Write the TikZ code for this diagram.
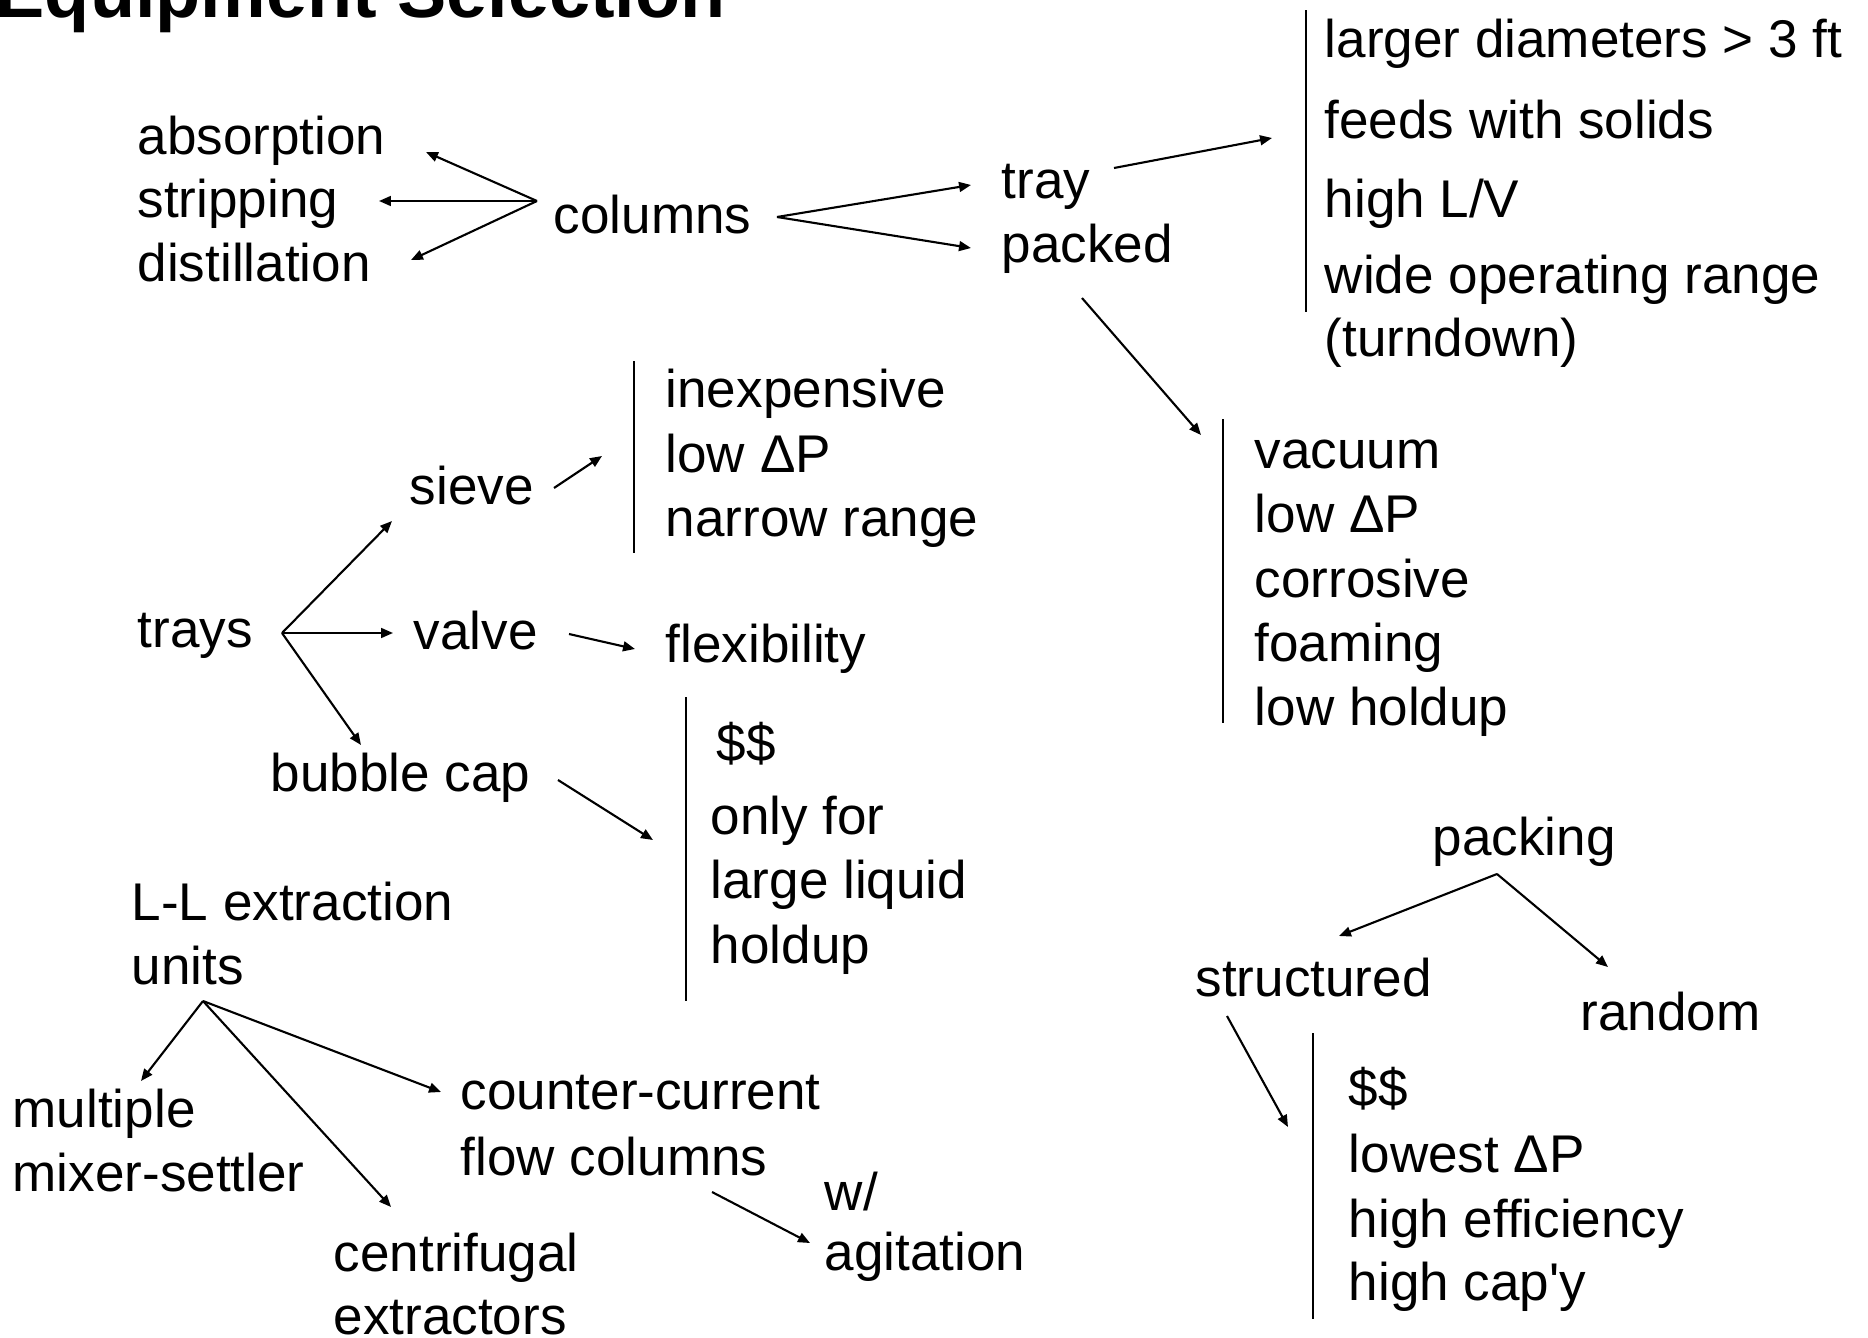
\documentclass[tikz,border=0pt]{standalone}
\usepackage{fontspec}
\usetikzlibrary{arrows.meta}
\newfontfamily\arialfont{Liberation Sans}
\newcommand{\bodyfont}{\arialfont\fontsize{15.1pt}{18pt}\selectfont}
\newcommand{\titlefont}{\arialfont\bfseries\fontsize{21pt}{25pt}\selectfont}

\begin{document}
\begin{tikzpicture}[x=0.1mm,y=-0.1mm,
  txt/.style={anchor=base west,inner sep=0pt,font=\bodyfont},
  arr/.style={line width=0.6pt,-{Triangle[length=3.4pt,width=2.8pt]}},
  bar/.style={line width=0.6pt}]
\path[use as bounding box,fill=white] (0,0) rectangle (1868,1338);
\node[anchor=base west,inner sep=0pt,font=\titlefont] (title) at (-5,17) {Equipment Selection};

\node[txt] (absorption) at (137,154) {absorption};
\node[txt] (stripping) at (137,217) {stripping};
\node[txt] (distillation) at (137,281) {distillation};
\node[txt] (columns) at (553,233) {columns};
\node[txt] (tray) at (1001,198) {tray};
\node[txt] (packed) at (1001,262) {packed};
\node[txt] (diam) at (1324,58) {larger diameters > 3 ft};
\node[txt] (solids) at (1324,138) {feeds with solids};
\node[txt] (highLV) at (1324,217) {high L/V};
\node[txt] (wide) at (1324,293) {wide operating range};
\node[txt] (turndown) at (1324,356) {(turndown)};
\node[txt] (vacuum) at (1254,468) {vacuum};
\node[txt] (lowdp) at (1254,532) {low ΔP};
\node[txt] (corrosive) at (1254,597) {corrosive};
\node[txt] (foaming) at (1254,661) {foaming};
\node[txt] (lowholdup) at (1254,725) {low holdup};
\node[txt] (inexp) at (665,407) {inexpensive};
\node[txt] (sievedp) at (665,472) {low ΔP};
\node[txt] (narrow) at (665,536) {narrow range};
\node[txt] (sieve) at (409,504) {sieve};
\node[txt] (trays) at (137,647) {trays};
\node[txt] (valve) at (413,649) {valve};
\node[txt] (flex) at (665,662) {flexibility};
\node[txt] (bubble) at (270,791) {bubble cap};
\node[txt] (capcost) at (716,761) {\$\$};
\node[txt] (onlyfor) at (710,834) {only for};
\node[txt] (largeliq) at (710,898) {large liquid};
\node[txt] (capholdup) at (710,963) {holdup};
\node[txt] (llext) at (131,920) {L-L extraction};
\node[txt] (units) at (131,984) {units};
\node[txt] (multiple) at (12,1127) {multiple};
\node[txt] (mixer) at (12,1191) {mixer-settler};
\node[txt] (counter) at (460,1109) {counter-current};
\node[txt] (flowcol) at (460,1175) {flow columns};
\node[txt] (centri) at (333,1271) {centrifugal};
\node[txt] (extractors) at (333,1334) {extractors};
\node[txt] (with) at (824,1210) {w/};
\node[txt] (agitation) at (824,1270) {agitation};
\node[txt] (packing) at (1432,855) {packing};
\node[txt] (structured) at (1195,996) {structured};
\node[txt] (random) at (1580,1030) {random};
\node[txt] (strcost) at (1348,1106) {\$\$};
\node[txt] (lowest) at (1348,1172) {lowest ΔP};
\node[txt] (effic) at (1348,1237) {high efficiency};
\node[txt] (capy) at (1348,1300) {high cap'y};

\coordinate (colhubL) at (537,201);
\coordinate (absorptionT) at (426,152);
\coordinate (strippingT) at (379,201);
\coordinate (distillationT) at (411,260);
\coordinate (colhubR) at (777,217);
\coordinate (trayT) at (971,185);
\coordinate (packedT) at (971,248);
\coordinate (trayS) at (1114,168);
\coordinate (trayE) at (1272,138);
\coordinate (packedS) at (1082,298);
\coordinate (packedE) at (1201,435);
\coordinate (sieveS) at (554,488);
\coordinate (sieveE) at (602,456);
\coordinate (trayshub) at (282,633);
\coordinate (sieveT) at (392,521);
\coordinate (valveT) at (393,633);
\coordinate (bubbleT) at (361,745);
\coordinate (valveS) at (569,634);
\coordinate (valveE) at (635,649);
\coordinate (bubbleS) at (558,780);
\coordinate (bubbleE) at (653,840);
\coordinate (unitshub) at (203,1001);
\coordinate (multipleT) at (141,1081);
\coordinate (centriT) at (391,1207);
\coordinate (counterT) at (441,1092);
\coordinate (flowS) at (712,1192);
\coordinate (flowE) at (810,1243);
\coordinate (packinghub) at (1497,874);
\coordinate (structuredT) at (1339,936);
\coordinate (randomT) at (1608,967);
\coordinate (structS) at (1227,1016);
\coordinate (structE) at (1288,1127);

\draw[arr] (colhubL) -- (absorptionT);
\draw[arr] (colhubL) -- (strippingT);
\draw[arr] (colhubL) -- (distillationT);
\draw[arr] (colhubR) -- (trayT);
\draw[arr] (colhubR) -- (packedT);
\draw[arr] (trayS) -- (trayE);
\draw[arr] (packedS) -- (packedE);
\draw[arr] (sieveS) -- (sieveE);
\draw[arr] (trayshub) -- (sieveT);
\draw[arr] (trayshub) -- (valveT);
\draw[arr] (trayshub) -- (bubbleT);
\draw[arr] (valveS) -- (valveE);
\draw[arr] (bubbleS) -- (bubbleE);
\draw[arr] (unitshub) -- (multipleT);
\draw[arr] (unitshub) -- (centriT);
\draw[arr] (unitshub) -- (counterT);
\draw[arr] (flowS) -- (flowE);
\draw[arr] (packinghub) -- (structuredT);
\draw[arr] (packinghub) -- (randomT);
\draw[arr] (structS) -- (structE);

\draw[bar] (1306,10) -- (1306,312);
\draw[bar] (1223,419) -- (1223,723);
\draw[bar] (634,361) -- (634,553);
\draw[bar] (686,697) -- (686,1001);
\draw[bar] (1313,1033) -- (1313,1319);
\end{tikzpicture}
\end{document}
